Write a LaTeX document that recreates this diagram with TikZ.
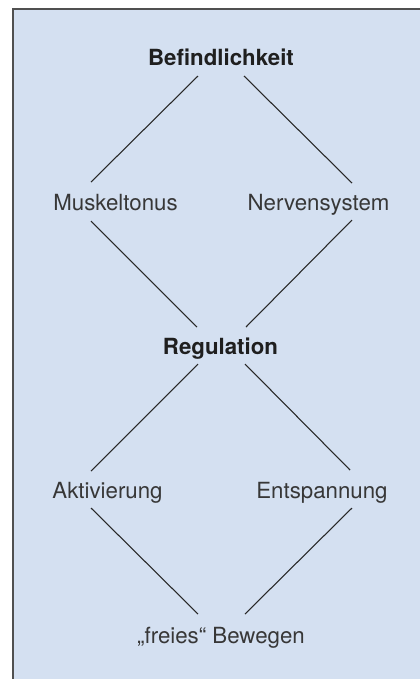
\documentclass[tikz,border=0pt]{standalone}
\usepackage{fontspec}
\setmainfont{TeX Gyre Heros}
\usepackage{tikz}
\usetikzlibrary{calc}
\definecolor{panelblue}{RGB}{212,224,241}
\definecolor{framegray}{RGB}{80,80,80}
\definecolor{labelgray}{RGB}{55,55,55}
\definecolor{linegray}{RGB}{40,40,40}

\begin{document}
\begin{tikzpicture}[x=0.75pt, y=-0.75pt,
    term/.style={anchor=base, inner sep=0pt, text=labelgray, font=\fontsize{16.7}{20}\selectfont},
    key/.style={term, text=black!88, font=\fontsize{16.7}{20}\selectfont\bfseries},
    link/.style={draw=linegray, line width=0.8pt}]
    \useasboundingbox (0,0) rectangle (420,679);
    \clip (0,0) rectangle (420,679);
    % panel
    \fill[panelblue] (13,9) rectangle (440,700);
    \draw[framegray, line width=1.5pt] (440,9) -- (13,9) -- (13,700);
    % labels
    \node[key]  (bef)  at (221,65)    {Befindlichkeit};
    \node[term] (musk) at (115.5,210) {Muskeltonus};
    \node[term] (nerv) at (318.5,210) {Nervensystem};
    \node[key]  (reg)  at (220.5,354) {Regulation};
    \node[term] (akt)  at (107.5,498) {Aktivierung};
    \node[term] (ent)  at (322,498)   {Entspannung};
    \node[term] (frei) at (221,643)   {„freies“ Bewegen};
    % upper diamond
    \draw[link] ($(bef.base)+(-23,11)$) -- ($(musk.base)+(-24.5,-28)$);
    \draw[link] ($(bef.base)+(23,11)$) -- ($(nerv.base)+(33.5,-27)$);
    \draw[link] ($(musk.base)+(-24.5,11)$) -- ($(reg.base)+(-23.5,-27)$);
    \draw[link] ($(nerv.base)+(33.5,10)$) -- ($(reg.base)+(25.5,-27)$);
    % lower diamond
    \draw[link] ($(reg.base)+(-22.5,10)$) -- ($(akt.base)+(-16.5,-27)$);
    \draw[link] ($(reg.base)+(24.5,10)$) -- ($(ent.base)+(28,-28)$);
    \draw[link] ($(akt.base)+(-16.5,10)$) -- ($(frei.base)+(-23,-29)$);
    \draw[link] ($(ent.base)+(30,10)$) -- ($(frei.base)+(24,-29)$);
\end{tikzpicture}
\end{document}
